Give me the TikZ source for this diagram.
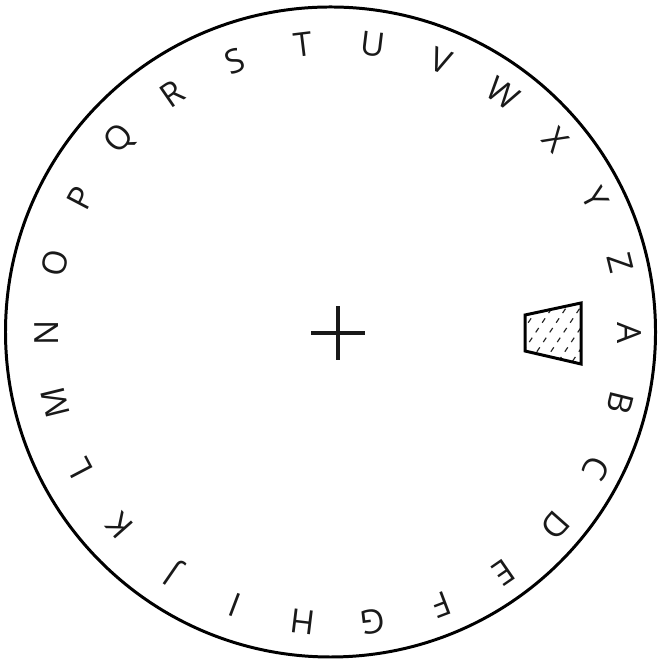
\documentclass[tikz,border=0pt]{standalone}
\usepackage{fontspec}
\setmainfont{Open Sans}
\begin{document}
\begin{tikzpicture}[
	x=0.02cm, y=0.02cm,
	rim/.style={line width=1.7pt},
	letter/.style={font=\fontsize{19}{19}\selectfont, inner sep=0pt, text=black!90},
	cross/.style={line width=2.8pt, black!90},
	window/.style={line width=1.7pt, line join=miter},
	hatch/.style={line width=0.7pt, dash pattern=on 3pt off 3.6pt, black!85}
	]
	\useasboundingbox (0,0) rectangle (658,661);

	\coordinate (hub) at (338,328);
	\draw[rim] (330.5,329) circle (325);

	% alphabet round the rim, tops pointing out
	\foreach \l [count=\i] in {A,B,C,D,E,F,G,H,I,J,K,L,M,N,O,P,Q,R,S,T,U,V,W,X,Y,Z}
		\node[letter, rotate={-(\i-1)*360/26-90}] (l-\l) at ([shift={({-(\i-1)*360/26}:291)}]hub) {\l};

	% centre mark
	\draw[cross] ([xshift=-27*0.02cm]hub) -- ([xshift=27*0.02cm]hub);
	\draw[cross] ([yshift=-27*0.02cm]hub) -- ([yshift=27*0.02cm]hub);

	% window
	\coordinate (w-tl) at (525,346);
	\coordinate (w-tr) at (581,358);
	\coordinate (w-br) at (581,297);
	\coordinate (w-bl) at (525,310);
	\begin{scope}
		\clip (w-tl) -- (w-tr) -- (w-br) -- (w-bl) -- cycle;
		\foreach \x in {440,454,...,600}
			\draw[hatch] (\x,290) -- ++(50,75);
	\end{scope}
	\draw[window] (w-tl) -- (w-tr) -- (w-br) -- (w-bl) -- cycle;

\end{tikzpicture}
\end{document}
